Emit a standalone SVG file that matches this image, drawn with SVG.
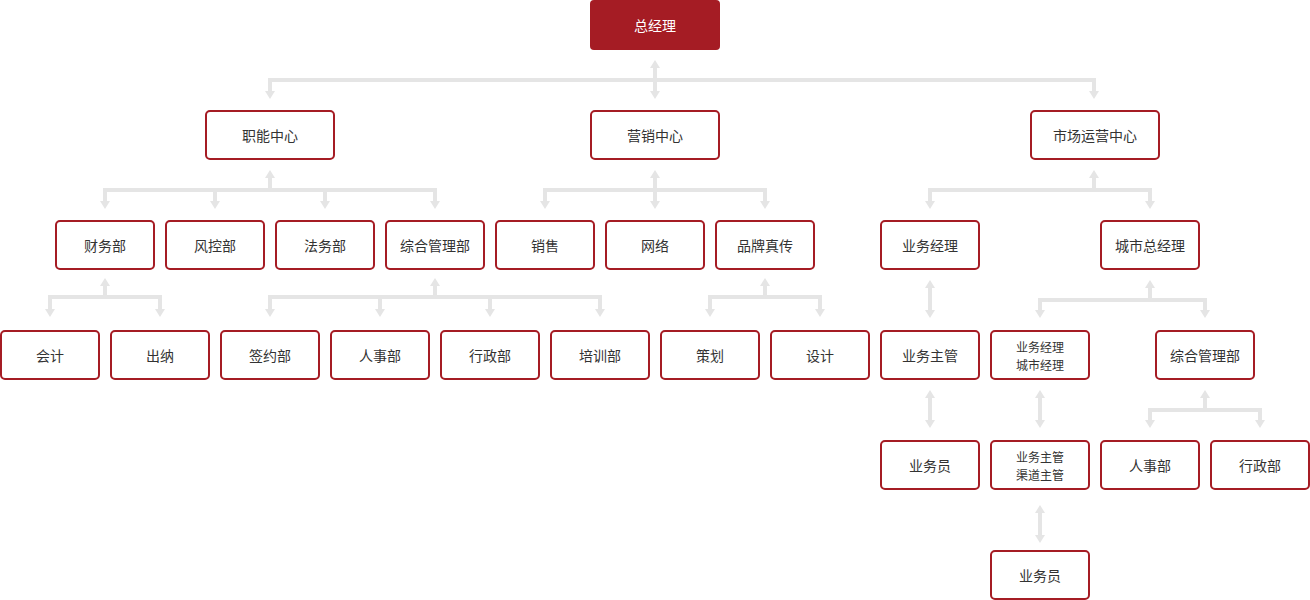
<svg xmlns="http://www.w3.org/2000/svg" xmlns:xlink="http://www.w3.org/1999/xlink" width="1310" height="600" viewBox="0 0 1310 600">
<style>
.n rect{fill:#fff;stroke:#a51c24;stroke-width:2}
.top rect{fill:#a51c24;stroke:none}
text{font-family:"Noto Sans CJK SC","Noto Sans",sans-serif;font-size:14px;fill:#333;text-anchor:middle;dominant-baseline:central}
.top text{fill:#fff}
.sm{font-size:12px}
.c path{fill:none;stroke:#e5e5e5;stroke-width:4}
.c use{fill:#e5e5e5}
</style>
<defs>
<path id="ad" d="M-5,-8 L5,-8 L0,0 Z"/>
<path id="au" d="M-5,8 L5,8 L0,0 Z"/>
</defs>
<rect width="1310" height="600" fill="#fff"/>
<g id="connectors" class="c">
<!-- level 0 -> 1 -->
<path d="M655,67 V92 M268,80 H1096 M270,80 V92 M1094,80 V92"/>
<use href="#au" x="655" y="60"/><use href="#ad" x="655" y="99"/>
<use href="#ad" x="270" y="99"/><use href="#ad" x="1094" y="99"/>
<!-- 职能中心 -->
<path d="M270,177 V190 M103,190 H437 M105,190 V202 M215,190 V202 M325,190 V202 M435,190 V202"/>
<use href="#au" x="270" y="170"/>
<use href="#ad" x="105" y="209"/><use href="#ad" x="215" y="209"/><use href="#ad" x="325" y="209"/><use href="#ad" x="435" y="209"/>
<!-- 营销中心 -->
<path d="M655,177 V190 M543,190 H767 M545,190 V202 M655,190 V202 M765,190 V202"/>
<use href="#au" x="655" y="170"/>
<use href="#ad" x="545" y="209"/><use href="#ad" x="655" y="209"/><use href="#ad" x="765" y="209"/>
<!-- 市场运营中心 -->
<path d="M1094,177 V190 M928,190 H1152 M930,190 V202 M1150,190 V202"/>
<use href="#au" x="1094" y="170"/>
<use href="#ad" x="930" y="209"/><use href="#ad" x="1150" y="209"/>
<!-- 财务部 -->
<path d="M105,285 V297 M48,297 H162 M50,297 V310 M160,297 V310"/>
<use href="#au" x="105" y="278"/>
<use href="#ad" x="50" y="317"/><use href="#ad" x="160" y="317"/>
<!-- 综合管理部 -->
<path d="M435,285 V297 M268,297 H602 M270,297 V310 M380,297 V310 M490,297 V310 M600,297 V310"/>
<use href="#au" x="435" y="278"/>
<use href="#ad" x="270" y="317"/><use href="#ad" x="380" y="317"/><use href="#ad" x="490" y="317"/><use href="#ad" x="600" y="317"/>
<!-- 品牌真传 -->
<path d="M765,285 V297 M708,297 H822 M710,297 V310 M820,297 V310"/>
<use href="#au" x="765" y="278"/>
<use href="#ad" x="710" y="317"/><use href="#ad" x="820" y="317"/>
<!-- 业务经理 -> 业务主管 -->
<path d="M930,287 V311"/>
<use href="#au" x="930" y="280"/><use href="#ad" x="930" y="318"/>
<!-- 城市总经理 -->
<path d="M1150,287 V300 M1038,300 H1207 M1040,300 V311 M1205,300 V311"/>
<use href="#au" x="1150" y="280"/>
<use href="#ad" x="1040" y="318"/><use href="#ad" x="1205" y="318"/>
<!-- level 3 -> 4 -->
<path d="M930,397 V421"/>
<use href="#au" x="930" y="390"/><use href="#ad" x="930" y="428"/>
<path d="M1040,397 V421"/>
<use href="#au" x="1040" y="390"/><use href="#ad" x="1040" y="428"/>
<path d="M1205,397 V410 M1148,410 H1262 M1150,410 V421 M1260,410 V421"/>
<use href="#au" x="1205" y="390"/>
<use href="#ad" x="1150" y="428"/><use href="#ad" x="1260" y="428"/>
<!-- level 4 -> 5 -->
<path d="M1040,512 V536"/>
<use href="#au" x="1040" y="505"/><use href="#ad" x="1040" y="543"/>
</g>
<g id="n-zjl" class="top"><rect x="590" y="0" width="130" height="50" rx="4"/><text x="655" y="25">总经理</text></g>
<g id="n-znzx" class="n"><rect x="206" y="111" width="128" height="48" rx="4"/><text x="270" y="135">职能中心</text></g>
<g id="n-yxzx" class="n"><rect x="591" y="111" width="128" height="48" rx="4"/><text x="655" y="135">营销中心</text></g>
<g id="n-scyyzx" class="n"><rect x="1031" y="111" width="128" height="48" rx="4"/><text x="1095" y="135">市场运营中心</text></g>
<g id="n-cwb" class="n"><rect x="56" y="221" width="98" height="48" rx="4"/><text x="105" y="245">财务部</text></g>
<g id="n-fkb" class="n"><rect x="166" y="221" width="98" height="48" rx="4"/><text x="215" y="245">风控部</text></g>
<g id="n-fwb" class="n"><rect x="276" y="221" width="98" height="48" rx="4"/><text x="325" y="245">法务部</text></g>
<g id="n-zhglb1" class="n"><rect x="386" y="221" width="98" height="48" rx="4"/><text x="435" y="245">综合管理部</text></g>
<g id="n-xs" class="n"><rect x="496" y="221" width="98" height="48" rx="4"/><text x="545" y="245">销售</text></g>
<g id="n-wl" class="n"><rect x="606" y="221" width="98" height="48" rx="4"/><text x="655" y="245">网络</text></g>
<g id="n-ppzc" class="n"><rect x="716" y="221" width="98" height="48" rx="4"/><text x="765" y="245">品牌真传</text></g>
<g id="n-ywjl" class="n"><rect x="881" y="221" width="98" height="48" rx="4"/><text x="930" y="245">业务经理</text></g>
<g id="n-cszjl" class="n"><rect x="1101" y="221" width="98" height="48" rx="4"/><text x="1150" y="245">城市总经理</text></g>
<g id="n-kj" class="n"><rect x="1" y="331" width="98" height="48" rx="4"/><text x="50" y="355">会计</text></g>
<g id="n-cn" class="n"><rect x="111" y="331" width="98" height="48" rx="4"/><text x="160" y="355">出纳</text></g>
<g id="n-qyb" class="n"><rect x="221" y="331" width="98" height="48" rx="4"/><text x="270" y="355">签约部</text></g>
<g id="n-rsb1" class="n"><rect x="331" y="331" width="98" height="48" rx="4"/><text x="380" y="355">人事部</text></g>
<g id="n-xzb1" class="n"><rect x="441" y="331" width="98" height="48" rx="4"/><text x="490" y="355">行政部</text></g>
<g id="n-pxb" class="n"><rect x="551" y="331" width="98" height="48" rx="4"/><text x="600" y="355">培训部</text></g>
<g id="n-ch" class="n"><rect x="661" y="331" width="98" height="48" rx="4"/><text x="710" y="355">策划</text></g>
<g id="n-sj" class="n"><rect x="771" y="331" width="98" height="48" rx="4"/><text x="820" y="355">设计</text></g>
<g id="n-ywzg" class="n"><rect x="881" y="331" width="98" height="48" rx="4"/><text x="930" y="355">业务主管</text></g>
<g id="n-ywjl-csjl" class="n"><rect x="991" y="331" width="98" height="48" rx="4"/><text class="sm" x="1040" y="346">业务经理</text><text class="sm" x="1040" y="364">城市经理</text></g>
<g id="n-zhglb2" class="n"><rect x="1156" y="331" width="98" height="48" rx="4"/><text x="1205" y="355">综合管理部</text></g>
<g id="n-ywy1" class="n"><rect x="881" y="441" width="98" height="48" rx="4"/><text x="930" y="465">业务员</text></g>
<g id="n-ywzg-qdzg" class="n"><rect x="991" y="441" width="98" height="48" rx="4"/><text class="sm" x="1040" y="456">业务主管</text><text class="sm" x="1040" y="474">渠道主管</text></g>
<g id="n-rsb2" class="n"><rect x="1101" y="441" width="98" height="48" rx="4"/><text x="1150" y="465">人事部</text></g>
<g id="n-xzb2" class="n"><rect x="1211" y="441" width="98" height="48" rx="4"/><text x="1260" y="465">行政部</text></g>
<g id="n-ywy2" class="n"><rect x="991" y="551" width="98" height="48" rx="4"/><text x="1040" y="575">业务员</text></g>
</svg>
